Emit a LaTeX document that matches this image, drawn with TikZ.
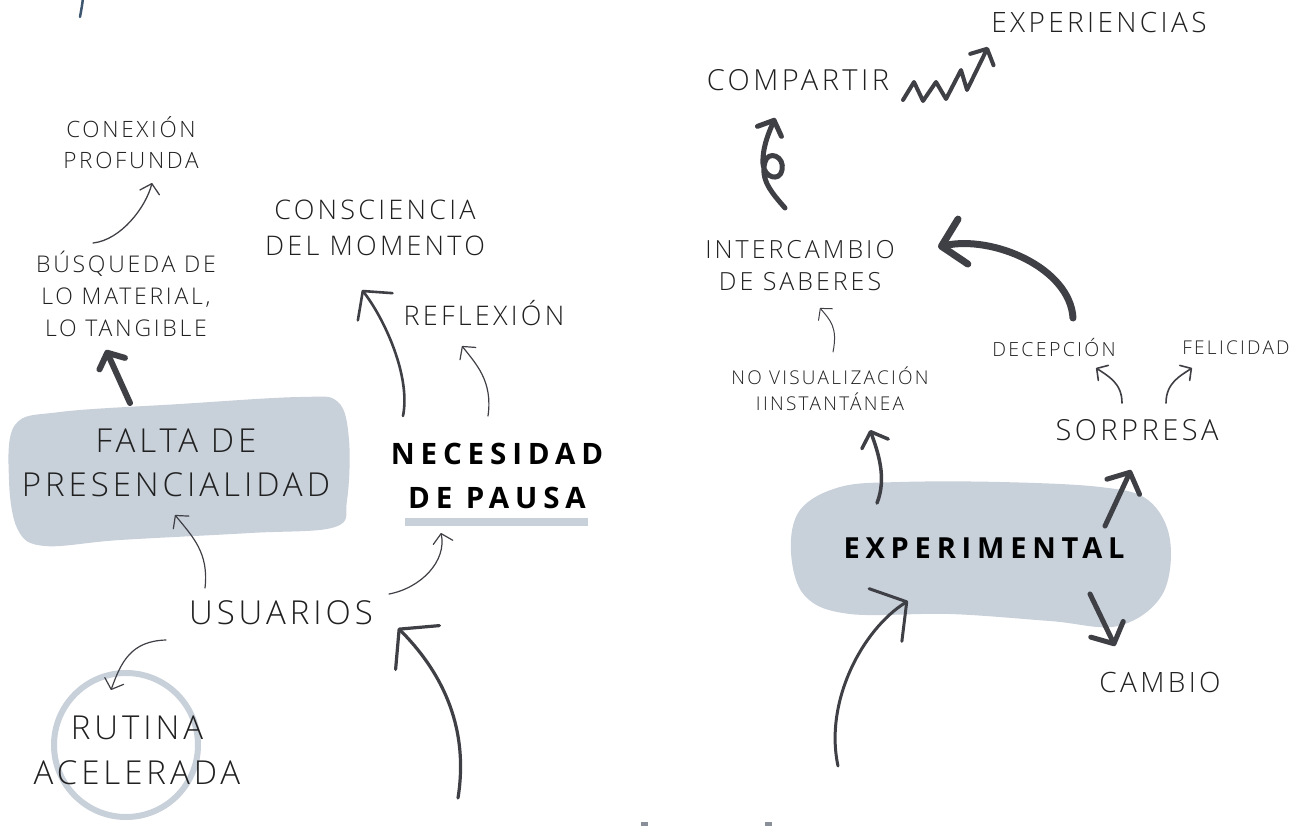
\documentclass[tikz,border=0pt]{standalone}
\usepackage{fontspec}
\setmainfont{Open Sans}[UprightFont=* Light, BoldFont=* Bold]
\newfontfamily\wide{Open Sans}[UprightFont=* Light, LetterSpace=12]
\newfontfamily\heavy{Open Sans}[UprightFont=* Bold, LetterSpace=20]
\usetikzlibrary{arrows.meta,calc}
\definecolor{ink}{HTML}{3F3F46}
\definecolor{blob}{HTML}{C8D0DA}
\definecolor{txt}{HTML}{202020}
\definecolor{slate}{HTML}{3E5670}
\definecolor{edgegray}{HTML}{8A909A}
\tikzset{
  lbl/.style={align=center,inner sep=0pt,text=txt},
  lnk/.style={draw=ink,line cap=round,line join=round},
  head/.style 2 args={-{Straight Barb[round,length=#1,width=#2]}}
}

\begin{document}
\begin{tikzpicture}[x=1pt,y=-1pt]
\useasboundingbox (0,0) rectangle (1305,826);
% blobs
\fill[blob] plot[smooth cycle,tension=0.6] coordinates {(15,425) (60,412) (180,404) (300,397) (338,402) (349,440) (347,500) (335,527) (250,533) (120,540) (45,546) (18,530) (9,480)};
\fill[blob] plot[smooth cycle,tension=0.6] coordinates {(800,510) (840,487) (900,482) (1000,482) (1100,487) (1148,500) (1170,540) (1162,595) (1118,626) (1050,621) (950,614) (850,614) (805,596) (791,552)};
\draw[blob,line width=6pt] (126,745) circle (72);
% left side
\node[lbl,font=\wide\fontsize{22.5}{31}\selectfont] (con) at (131,143) {CONEXIÓN\\PROFUNDA};
\node[lbl,font=\wide\fontsize{23}{32}\selectfont] (bus) at (126,294) {BÚSQUEDA DE\\LO MATERIAL,\\LO TANGIBLE};
\node[lbl,font=\wide\fontsize{27}{36}\selectfont] (cns) at (375,228) {CONSCIENCIA\\DEL MOMENTO};
\node[lbl,font=\wide\fontsize{27}{36}\selectfont] (ref) at (484,313) {REFLEXIÓN};
\node[lbl,font=\wide\fontsize{33}{44}\selectfont] (fal) at (176,463) {FALTA DE\\PRESENCIALIDAD};
\node[lbl,font=\heavy\fontsize{29.5}{44}\selectfont,text=black] (nec) at (497,476) {NECESIDAD\\DE PAUSA};
\node[lbl,font=\wide\fontsize{33}{44}\selectfont] (usr) at (281,613) {USUARIOS};
\node[lbl,font=\wide\fontsize{33}{45}\selectfont] (rut) at (137,750) {RUTINA\\ACELERADA};
\draw[blob,line width=8pt] ($(nec)+(-92,46)$) -- ($(nec)+(91,46)$);
% right side
\node[lbl,font=\wide\fontsize{29}{36}\selectfont] (cmp) at (798,80) {COMPARTIR};
\node[lbl,font=\wide\fontsize{28}{36}\selectfont] (exs) at (1099,23) {EXPERIENCIAS};
\node[lbl,font=\wide\fontsize{25}{32}\selectfont] (itc) at (800,266) {INTERCAMBIO\\DE SABERES};
\node[lbl,font=\wide\fontsize{19}{26}\selectfont] (nov) at (830,389) {NO VISUALIZACIÓN\\IINSTANTÁNEA};
\node[lbl,font=\wide\fontsize{19.5}{26}\selectfont] (dec) at (1054,348) {DECEPCIÓN};
\node[lbl,font=\wide\fontsize{19}{26}\selectfont] (fel) at (1236,348) {FELICIDAD};
\node[lbl,font=\wide\fontsize{29}{36}\selectfont] (sor) at (1137,430) {SORPRESA};
\node[lbl,font=\heavy\fontsize{29}{36}\selectfont,text=black] (exm) at (984,548) {EXPERIMENTAL};
\node[lbl,font=\wide\fontsize{28}{36}\selectfont] (cam) at (1160,682) {CAMBIO};
\coordinate (u0) at (458,798);
\coordinate (e0) at (838,766);
% connectors, left
\draw[lnk,line width=1.3pt,head={9pt}{20pt}] ($(bus)+(-33,-51)$) .. controls +(28,-3) and +(-6,24) .. ($(con)+(21,40)$);
\draw[lnk,line width=6pt,head={12pt}{28pt}] ($(fal)+(-46,-60)$) -- ($(bus)+(-20,56)$);
\draw[lnk,line width=2.6pt,head={20pt}{44pt}] ($(nec)+(-94,-60)$) .. controls +(8,-40) and +(22,28) .. ($(cns)+(-13,62)$);
\draw[lnk,line width=1.2pt,head={9pt}{20pt}] ($(nec)+(-9,-60)$) .. controls +(5,-35) and +(14,18) .. ($(ref)+(-22,33)$);
\draw[lnk,line width=1.2pt,head={9pt}{20pt}] ($(usr)+(-76,-25)$) .. controls +(4,-35) and +(18,22) .. ($(fal)+(-1,52)$);
\draw[lnk,line width=1.2pt,head={9pt}{20pt}] ($(usr)+(108,-19)$) .. controls +(32,-6) and +(6,28) .. ($(nec)+(-56,57)$);
\draw[lnk,line width=1.2pt,head={9pt}{20pt}] ($(usr)+(-115,27)$) .. controls +(-35,1) and +(10,-28) .. ($(rut)+(-26,-60)$);
\draw[lnk,line width=3.2pt,head={26pt}{62pt}] (u0) .. controls +(12,-75) and +(40,40) .. ($(usr)+(117,15)$);
% connectors, right
\draw[lnk,line width=3.5pt,head={13pt}{28pt}] ($(exm)+(-107,-45)$) .. controls +(10,-25) and +(8,22) .. ($(nov)+(40,41)$);
\draw[lnk,line width=1pt,head={8pt}{18pt}] ($(nov)+(3,-37)$) .. controls +(5,-25) and +(10,12) .. ($(itc)+(20,42)$);
\draw[lnk,line width=7pt,head={22pt}{46pt}] ($(sor)+(-64,-112)$) .. controls +(-3,-50) and +(55,-12) .. ($(itc)+(138,-19)$);
\draw[lnk,line width=1.6pt,head={8pt}{18pt}] ($(sor)+(-15,-27)$) .. controls +(0,-20) and +(12,8) .. ($(dec)+(42,20)$);
\draw[lnk,line width=1.6pt,head={8pt}{18pt}] ($(sor)+(29,-27)$) .. controls +(0,-20) and +(-12,8) .. ($(fel)+(-44,20)$);
\draw[lnk,line width=5pt,head={16pt}{36pt}] ($(exm)+(121,-22)$) -- ($(sor)+(-6,40)$);
\draw[lnk,line width=5pt,head={16pt}{36pt}] ($(exm)+(106,46)$) -- ($(cam)+(-45,-36)$);
\draw[lnk,line width=3pt,head={25pt}{62pt}] (e0) .. controls +(-14,-65) and +(-45,28) .. ($(exm)+(-76,53)$);
\draw[lnk,line width=5pt,head={12pt}{26pt}] ($(itc)+(-15,-58)$) .. controls +(-13,-15) and +(-5,18) .. ++(-20,-46)
  .. controls +(3,-12) and +(3,-14) .. ++(17,8)
  .. controls +(-2,12) and +(1,14) .. ++(-19,-6)
  .. controls +(-1,-17) and +(-5,12) .. ($(cmp)+(-23,38)$);
\draw[lnk,line width=4pt,head={12pt}{26pt}] ($(cmp)+(105,20)$) -- ++(11,-18) -- ++(9,19) -- ++(13,-19) -- ++(10,17) -- ++(15,-29) -- ++(6,20) -- ($(exs)+(-111,24)$);
% cut-off marks at the edges
\draw[slate,line width=2.5pt,line cap=round] (83,-2) .. controls (82,6) .. (80,17);
\fill[edgegray] (641,822) rectangle (648,826);
\fill[edgegray] (765,822) rectangle (772,826);
\end{tikzpicture}
\end{document}
